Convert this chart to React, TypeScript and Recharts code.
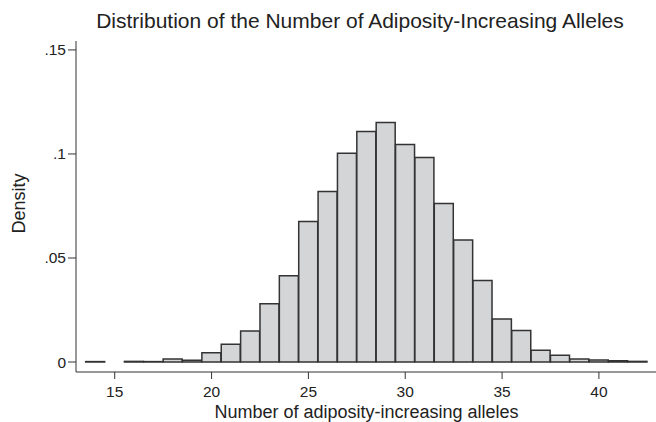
import { ComposedChart, Bar, XAxis, YAxis } from "recharts";

// number of adiposity-increasing alleles (bin centres, width 1)
const alleles = [14, 15, 16, 17, 18, 19, 20, 21, 22, 23, 24, 25, 26, 27, 28, 29, 30, 31, 32, 33, 34, 35, 36, 37, 38, 39, 40, 41, 42];
const density = [
  0.0002, 0, 0.0003, 0.0002, 0.0014, 0.0009, 0.0045, 0.0085, 0.0149, 0.028, 0.0415,
  0.0675, 0.0819, 0.1004, 0.1108, 0.1151, 0.1045, 0.0983, 0.0762, 0.0586, 0.0392,
  0.0207, 0.0152, 0.0056, 0.0032, 0.0014, 0.001, 0.0006, 0.0003,
];
const xTicks = [15, 20, 25, 30, 35, 40];
const yTicks = [0, 0.05, 0.1, 0.15];

const chartData = alleles.map((a, i) => ({ alleles: a, density: density[i] }));

const font = "'Liberation Sans', Arial, sans-serif";
const ink = "#333";
const textColor = "#222";

const fmtY = (v: number) => (v === 0 ? "0" : String(v).replace(/^0/, ""));

// rotated y-axis title, centred on the plot height
function DensityLabel({ viewBox }: any) {
  const x = 19;
  const y = viewBox.y + viewBox.height / 2 - 3;
  return (
    <text
      x={x}
      y={y}
      transform={`rotate(-90 ${x} ${y})`}
      textAnchor="middle"
      dominantBaseline="central"
      fill={textColor}
      fontSize={18}
      fontFamily={font}
    >
      Density
    </text>
  );
}

export default function App() {
  return (
    <div
      style={{
        position: "absolute",
        left: 0,
        top: 0,
        width: 656,
        height: 422,
        overflow: "hidden",
        background: "#fff",
        fontFamily: font,
      }}
    >
      <div
        style={{
          position: "absolute",
          left: 0,
          width: 720,
          top: 9,
          textAlign: "center",
          fontSize: 21,
          color: textColor,
        }}
      >
        Distribution of the Number of Adiposity-Increasing Alleles
      </div>
      <ComposedChart
        width={660}
        height={422}
        data={chartData}
        margin={{ top: 41, right: 3, bottom: 0, left: 0 }}
        barCategoryGap={0}
        barGap={0}
      >
        <XAxis
          dataKey="alleles"
          type="number"
          domain={[13, 43]}
          ticks={xTicks}
          allowDataOverflow
          height={50}
          stroke={ink}
          tickSize={7}
          tickMargin={7}
          tick={{ fill: textColor, fontSize: 15.5, fontFamily: font }}
          label={{
            value: "Number of adiposity-increasing alleles",
            position: "insideBottom",
            offset: 4,
            fill: textColor,
            fontSize: 18,
            fontFamily: font,
          }}
        />
        <XAxis
          xAxisId="top"
          orientation="top"
          type="number"
          domain={[13, 43]}
          height={0}
          tick={false}
          tickLine={false}
          stroke={ink}
        />
        <YAxis
          type="number"
          domain={[-0.0048, 0.1543]}
          ticks={yTicks}
          allowDataOverflow
          width={76}
          stroke={ink}
          tickSize={8}
          tickMargin={2}
          tickFormatter={fmtY}
          tick={{ fill: textColor, fontSize: 15.5, fontFamily: font }}
          label={<DensityLabel />}
        />
        <Bar
          dataKey="density"
          fill="#d4d5d7"
          stroke={ink}
          strokeWidth={1.5}
          isAnimationActive={false}
        />
      </ComposedChart>
    </div>
  );
}
